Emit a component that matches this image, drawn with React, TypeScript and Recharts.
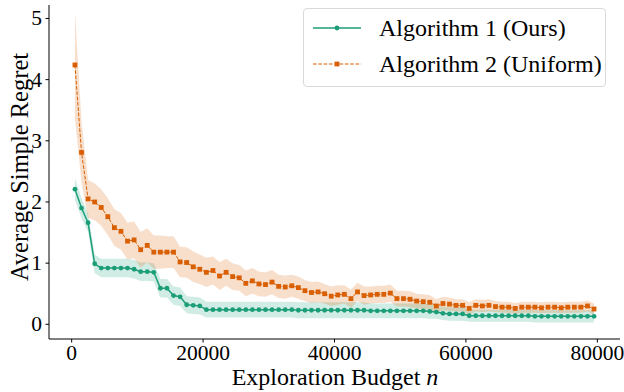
import React from 'react';
import { ComposedChart, Line, Area, XAxis, YAxis, Legend } from 'recharts';

// Exploration budgets at which both algorithms were evaluated
const budgets = [
  500, 1500, 2500, 3500, 4500, 5500, 6500, 7500, 8500, 9500,
  10500, 11500, 12500, 13500, 14500, 15500, 16500, 17500, 18500, 19500,
  20500, 21500, 22500, 23500, 24500, 25500, 26500, 27500, 28500, 29500,
  30500, 31500, 32500, 33500, 34500, 35500, 36500, 37500, 38500, 39500,
  40500, 41500, 42500, 43500, 44500, 45500, 46500, 47500, 48500, 49500,
  50500, 51500, 52500, 53500, 54500, 55500, 56500, 57500, 58500, 59500,
  60500, 61500, 62500, 63500, 64500, 65500, 66500, 67500, 68500, 69500,
  70500, 71500, 72500, 73500, 74500, 75500, 76500, 77500, 78500, 79500,
];

// Algorithm 1 (Ours): mean simple regret and half-width of the shaded band
const algo1Mean = [
  2.21, 1.90, 1.66, 0.99, 0.92, 0.92, 0.92, 0.92, 0.92, 0.90,
  0.86, 0.86, 0.85, 0.59, 0.59, 0.47, 0.45, 0.32, 0.31, 0.30,
  0.24, 0.24, 0.24, 0.24, 0.24, 0.24, 0.24, 0.24, 0.24, 0.24,
  0.24, 0.24, 0.24, 0.24, 0.23, 0.23, 0.23, 0.23, 0.23, 0.23,
  0.23, 0.23, 0.23, 0.23, 0.23, 0.22, 0.22, 0.22, 0.22, 0.22,
  0.22, 0.22, 0.22, 0.22, 0.21, 0.20, 0.18, 0.17, 0.17, 0.17,
  0.14, 0.14, 0.14, 0.14, 0.14, 0.14, 0.14, 0.14, 0.14, 0.14,
  0.13, 0.13, 0.13, 0.13, 0.13, 0.13, 0.13, 0.13, 0.13, 0.13,
];
const algo1Spread = [
  0.18, 0.16, 0.15, 0.15, 0.15, 0.15, 0.15, 0.15, 0.15, 0.15,
  0.15, 0.15, 0.15, 0.15, 0.15, 0.15, 0.15, 0.14, 0.14, 0.14,
  0.13, 0.13, 0.13, 0.13, 0.13, 0.13, 0.13, 0.13, 0.13, 0.13,
  0.13, 0.13, 0.13, 0.13, 0.13, 0.13, 0.13, 0.13, 0.13, 0.13,
  0.13, 0.13, 0.13, 0.13, 0.13, 0.12, 0.12, 0.12, 0.12, 0.12,
  0.12, 0.12, 0.12, 0.12, 0.12, 0.11, 0.11, 0.11, 0.11, 0.11,
  0.10, 0.10, 0.10, 0.10, 0.10, 0.10, 0.10, 0.10, 0.10, 0.10,
  0.10, 0.10, 0.10, 0.10, 0.10, 0.10, 0.10, 0.10, 0.10, 0.10,
];

// Algorithm 2 (Uniform): mean simple regret and half-width of the shaded band
const algo2Mean = [
  4.24, 2.81, 2.05, 2.00, 1.91, 1.76, 1.58, 1.52, 1.36, 1.38,
  1.22, 1.29, 1.18, 1.18, 1.18, 1.18, 1.02, 1.01, 0.94, 0.90,
  0.85, 0.88, 0.79, 0.85, 0.78, 0.76, 0.67, 0.71, 0.66, 0.65,
  0.69, 0.62, 0.61, 0.63, 0.60, 0.55, 0.52, 0.53, 0.50, 0.46,
  0.48, 0.49, 0.42, 0.53, 0.47, 0.48, 0.49, 0.49, 0.51, 0.42,
  0.42, 0.41, 0.38, 0.37, 0.36, 0.30, 0.34, 0.33, 0.31, 0.31,
  0.26, 0.31, 0.30, 0.31, 0.29, 0.28, 0.28, 0.26, 0.28, 0.28,
  0.28, 0.27, 0.28, 0.28, 0.27, 0.28, 0.28, 0.28, 0.30, 0.25,
];
const algo2Spread = [
  0.87, 0.50, 0.31, 0.30, 0.30, 0.30, 0.30, 0.30, 0.30, 0.30,
  0.29, 0.28, 0.27, 0.27, 0.26, 0.26, 0.25, 0.25, 0.25, 0.24,
  0.24, 0.23, 0.23, 0.22, 0.22, 0.21, 0.21, 0.21, 0.20, 0.20,
  0.20, 0.19, 0.19, 0.18, 0.18, 0.17, 0.17, 0.17, 0.16, 0.16,
  0.16, 0.15, 0.15, 0.15, 0.15, 0.14, 0.14, 0.14, 0.14, 0.13,
  0.13, 0.13, 0.12, 0.12, 0.12, 0.11, 0.11, 0.11, 0.10, 0.10,
  0.10, 0.10, 0.10, 0.10, 0.09, 0.09, 0.09, 0.09, 0.09, 0.09,
  0.09, 0.09, 0.09, 0.09, 0.09, 0.09, 0.09, 0.09, 0.09, 0.09,
];

const xTicks = [0, 20000, 40000, 60000, 80000];
const yTicks = [0, 1, 2, 3, 4, 5];
const seriesNames = ['Algorithm 1 (Ours)', 'Algorithm 2 (Uniform)'];

const GREEN = '#1b9e77';
const ORANGE = '#d95f02';
const FONT = '"Liberation Serif", serif';

const rows = budgets.map((n, i) => ({
  n,
  a1: algo1Mean[i],
  a1Band: [algo1Mean[i] - algo1Spread[i], algo1Mean[i] + algo1Spread[i]],
  a2: algo2Mean[i],
  a2Band: [algo2Mean[i] - algo2Spread[i], algo2Mean[i] + algo2Spread[i]],
}));

const RoundDot = (props: any) => {
  const { cx, cy, index } = props;
  return <circle key={`g${index}`} cx={cx} cy={cy} r={2.4} fill={GREEN} stroke="none" />;
};

const SquareDot = (props: any) => {
  const { cx, cy, index } = props;
  return <rect key={`o${index}`} x={cx - 2.4} y={cy - 2.4} width={4.8} height={4.8} fill={ORANGE} stroke="none" />;
};

// Tick labels in the serif face: x labels hang below the tick, y labels sit left of it
const XTick = (props: any) => {
  const { x, y, payload } = props;
  return (
    <text x={x} y={y} dy={15} textAnchor="middle" fontFamily={FONT} fontSize={21.5} fill="#000">
      {payload.value}
    </text>
  );
};

const YTick = (props: any) => {
  const { x, y, payload } = props;
  return (
    <text x={x} y={y} dy={7} textAnchor="end" fontFamily={FONT} fontSize={21.5} fill="#000">
      {payload.value}
    </text>
  );
};

const YTitle = () => (
  <text
    x={19}
    y={167}
    transform="rotate(-90 19 167)"
    textAnchor="middle"
    dominantBaseline="central"
    fontFamily={FONT}
    fontSize={24.5}
    fill="#000"
  >
    Average Simple Regret
  </text>
);

const XTitle = () => (
  <text x={335} y={385} textAnchor="middle" fontFamily={FONT} fontSize={24} fill="#000">
    Exploration Budget <tspan fontStyle="italic">n</tspan>
  </text>
);

const LegendBox = () => {
  const entries = [
    { name: seriesNames[0], color: GREEN, dash: undefined as string | undefined, square: false, width: 1.5 },
    { name: seriesNames[1], color: ORANGE, dash: '3.7 1.6', square: true, width: 1 },
  ];
  return (
    <div
      style={{
        width: 303,
        height: 79,
        boxSizing: 'border-box',
        border: '1px solid #d9d9d9',
        borderRadius: 4,
        background: 'rgba(255,255,255,0.8)',
        position: 'relative',
        fontFamily: FONT,
        fontSize: 24,
        color: '#000',
      }}
    >
      {entries.map((e, i) => (
        <div
          key={e.name}
          style={{
            position: 'absolute',
            left: 9,
            top: 4 + i * 36,
            height: 30,
            display: 'flex',
            alignItems: 'center',
            whiteSpace: 'nowrap',
          }}
        >
          <svg width={48} height={10} style={{ marginRight: 18, display: 'block' }}>
            <line x1={0} y1={5} x2={48} y2={5} stroke={e.color} strokeWidth={e.width} strokeDasharray={e.dash} />
            {e.square ? (
              <rect x={21.6} y={2.6} width={4.8} height={4.8} fill={e.color} />
            ) : (
              <circle cx={24} cy={5} r={2.4} fill={e.color} />
            )}
          </svg>
          <span style={{ lineHeight: '30px' }}>{e.name}</span>
        </div>
      ))}
    </div>
  );
};

export default function App() {
  return (
    <div style={{ position: 'absolute', left: 0, top: 0, width: 624, height: 392, background: '#fff' }}>
      <ComposedChart width={624} height={392} data={rows} margin={{ top: 5, right: 4, left: 0, bottom: 0 }}>
        <XAxis
          dataKey="n"
          type="number"
          domain={[-3450, 83450]}
          allowDataOverflow
          ticks={xTicks}
          height={53}
          tickSize={3.5}
          tickMargin={2}
          axisLine={{ stroke: '#000', strokeWidth: 1 }}
          tickLine={{ stroke: '#000', strokeWidth: 1 }}
          tick={<XTick />}
          label={<XTitle />}
        />
        <YAxis
          type="number"
          domain={[-0.24, 5.22]}
          allowDataOverflow
          ticks={yTicks}
          width={49}
          tickSize={3.5}
          tickMargin={3.5}
          axisLine={{ stroke: '#000', strokeWidth: 1 }}
          tickLine={{ stroke: '#000', strokeWidth: 1 }}
          tick={<YTick />}
          label={<YTitle />}
        />
        <Area
          dataKey="a1Band"
          type="linear"
          stroke="none"
          fill={GREEN}
          fillOpacity={0.2}
          isAnimationActive={false}
          dot={false}
          activeDot={false}
          legendType="none"
        />
        <Area
          dataKey="a2Band"
          type="linear"
          stroke="none"
          fill={ORANGE}
          fillOpacity={0.2}
          isAnimationActive={false}
          dot={false}
          activeDot={false}
          legendType="none"
        />
        <Line
          dataKey="a1"
          name={seriesNames[0]}
          type="linear"
          stroke={GREEN}
          strokeWidth={1.5}
          dot={RoundDot}
          activeDot={false}
          isAnimationActive={false}
        />
        <Line
          dataKey="a2"
          name={seriesNames[1]}
          type="linear"
          stroke={ORANGE}
          strokeWidth={1}
          strokeDasharray="3.7 1.6"
          dot={SquareDot}
          activeDot={false}
          isAnimationActive={false}
        />
        <Legend
          layout="horizontal"
          verticalAlign="middle"
          align="center"
          wrapperStyle={{ left: 303, top: 8, width: 303, height: 79 }}
          content={<LegendBox />}
        />
      </ComposedChart>
    </div>
  );
}
